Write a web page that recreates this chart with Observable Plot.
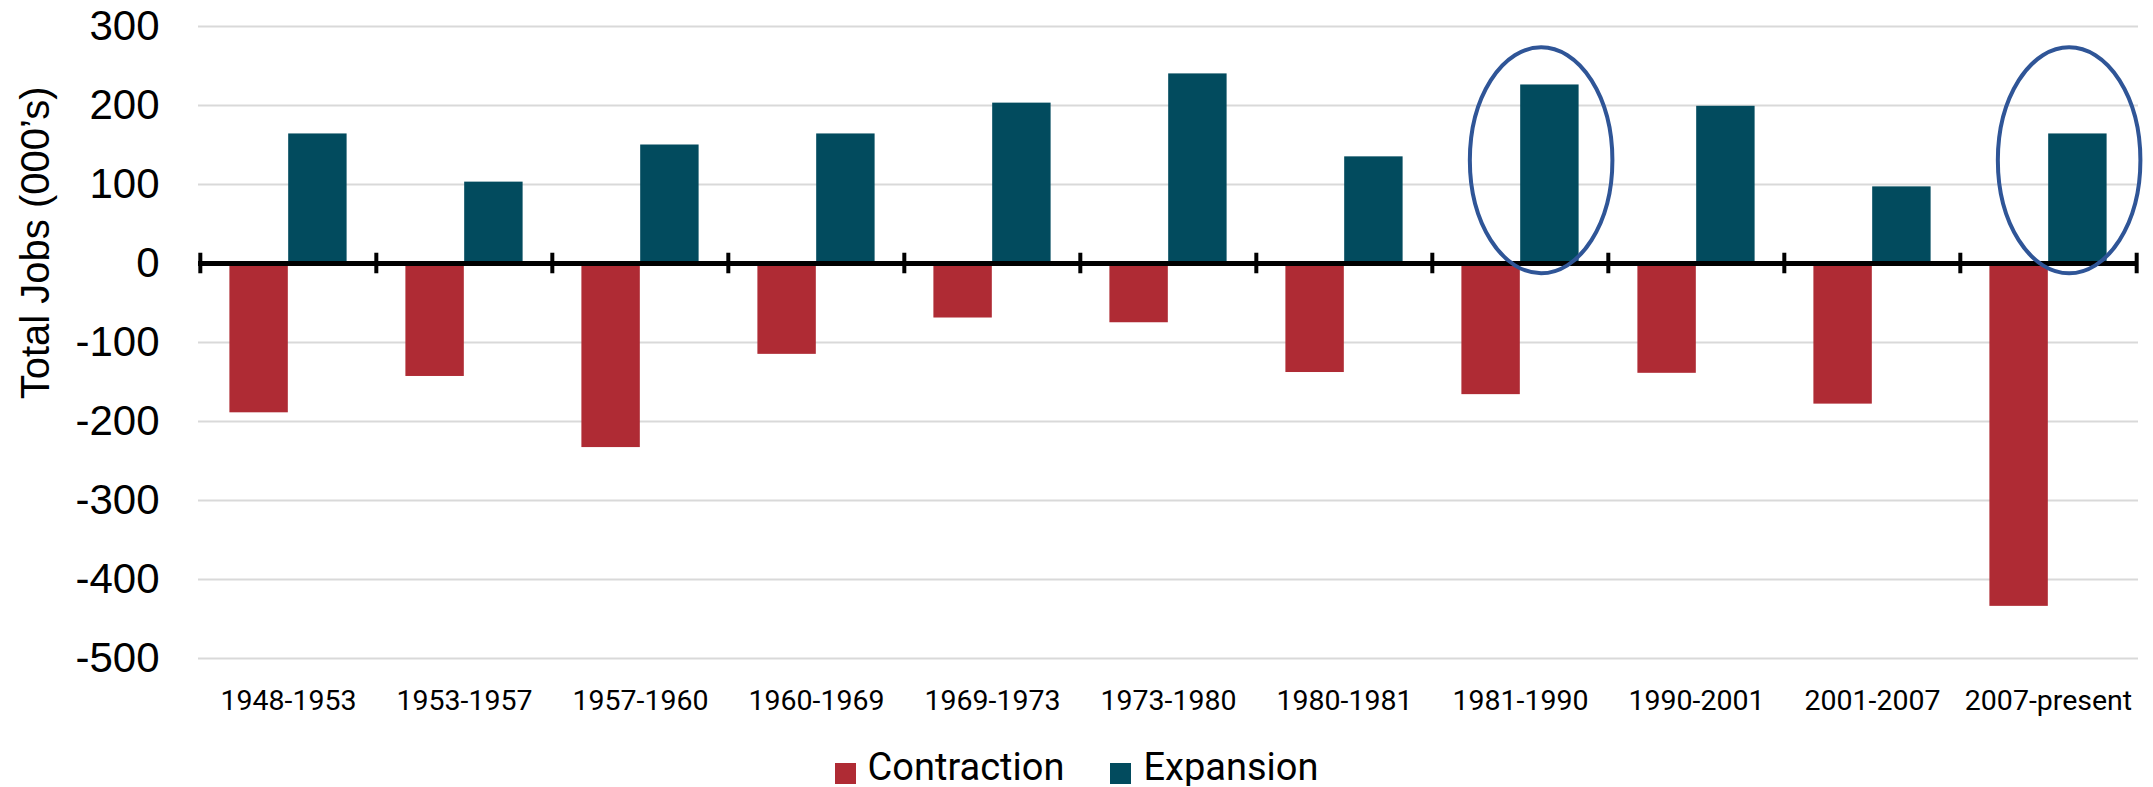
<!DOCTYPE html>
<html>
<head>
<meta charset="utf-8">
<script src="https://cdn.jsdelivr.net/npm/d3@7"></script>
<script src="https://cdn.jsdelivr.net/npm/@observablehq/plot@0.6"></script>
<style>
  body { margin: 0; background: #fff; }
  #chart { width: 2153px; }
  .legend { display: flex; justify-content: center; gap: 46px; font-family: Roboto, "Liberation Sans", sans-serif; font-size: 38px; line-height: 38px; padding-top: 28px; color: #000; }
  .legend .sw { display: inline-block; width: 21px; height: 21px; margin-right: 12px; vertical-align: -4px; }
</style>
</head>
<body>
<div id="chart"></div>
<script>
// ---- data ----
const periods = ["1948-1953", "1953-1957", "1957-1960", "1960-1969", "1969-1973", "1973-1980",
                 "1980-1981", "1981-1990", "1990-2001", "2001-2007", "2007-present"];
const contraction = [-189, -143, -233, -115, -69, -75, -138, -166, -139, -178, -434];
const expansion   = [164, 103, 150, 164, 203, 240, 135, 226, 199, 97, 164];
const yTicks = [-500, -400, -300, -200, -100, 0, 100, 200, 300];
const seriesNames = ["Contraction", "Expansion"];
const seriesColors = ["#AF2B34", "#024B5E"];
const highlighted = ["1981-1990", "2007-present"];
const yTitle = "Total Jobs (000’s)";

// ---- layout ----
const W = 2153, H = 720, ML = 198, MR = 15, MT = 26, MB = 62;
const bw = (W - ML - MR) / periods.length;

const rows = periods.flatMap((p, i) => [
  {period: p, type: seriesNames[0], value: contraction[i]},
  {period: p, type: seriesNames[1], value: expansion[i]}
]);

// annotation ellipses drawn through the plot's own scales
function ellipses(index, scales) {
  const g = d3.create("svg:g");
  const x = scales.x, y = scales.y;
  const b = x.bandwidth ? x.bandwidth() : bw;
  for (const p of highlighted) {
    const cy = y(130);
    const ry = Math.abs(y(273) - cy);
    g.append("ellipse")
      .attr("cx", x(p) + 0.62 * b)
      .attr("cy", cy)
      .attr("rx", 0.405 * b)
      .attr("ry", ry)
      .attr("fill", "none")
      .attr("stroke", "#2F5597")
      .attr("stroke-width", 4);
  }
  return g.node();
}

const boundaries = periods.map((p) => ({period: p, side: -1}))
  .concat([{period: periods[periods.length - 1], side: 1}]);

const plot = Plot.plot({
  width: W,
  height: H,
  marginLeft: ML,
  marginRight: MR,
  marginTop: MT,
  marginBottom: MB,
  x: {type: "band", domain: periods, paddingInner: 0, paddingOuter: 0, axis: null},
  y: {domain: [-500, 300], axis: null},
  style: {background: "#fff", overflow: "visible"},
  marks: [
    Plot.ruleY(yTicks, {stroke: "#d9d9d9", strokeWidth: 2}),
    Plot.barY(rows.filter(d => d.type === seriesNames[0]), {
      x: "period", y: "value", fill: seriesColors[0],
      insetLeft: bw / 6, insetRight: bw / 2
    }),
    Plot.barY(rows.filter(d => d.type === seriesNames[1]), {
      x: "period", y: "value", fill: seriesColors[1],
      insetLeft: bw / 2, insetRight: bw / 6
    }),
    Plot.ruleY([0], {stroke: "#000", strokeWidth: 5}),
    Plot.ruleX(boundaries.filter(d => d.side < 0), {x: "period", y1: -13, y2: 13, dx: -bw / 2, stroke: "#000", strokeWidth: 4}),
    Plot.ruleX(boundaries.filter(d => d.side > 0), {x: "period", y1: -13, y2: 13, dx: bw / 2, stroke: "#000", strokeWidth: 4}),
    ellipses,
    // y tick labels
    Plot.text(yTicks, {
      y: d => d, frameAnchor: "left", textAnchor: "end", dx: -39,
      text: d => d.toString(), fill: "#000",
      fontSize: 42, fontFamily: "'Liberation Sans', Arial, sans-serif"
    }),
    // x tick labels
    Plot.text(periods, {
      x: d => d, frameAnchor: "bottom", lineAnchor: "top", dy: 31,
      text: d => d, fill: "#000",
      fontSize: 28.5, fontFamily: "Roboto, sans-serif"
    }),
    // y axis title
    Plot.text([yTitle], {
      frameAnchor: "top-left", rotate: -90, textAnchor: "end",
      dx: -178, dy: 60, text: d => d, fill: "#000",
      fontSize: 40, fontFamily: "'Liberation Sans', Arial, sans-serif"
    })
  ]
});

const chart = document.getElementById("chart");
chart.appendChild(plot);

const legend = document.createElement("div");
legend.className = "legend";
seriesNames.forEach((name, i) => {
  const item = document.createElement("div");
  const sw = document.createElement("span");
  sw.className = "sw";
  sw.style.background = seriesColors[i];
  item.appendChild(sw);
  item.appendChild(document.createTextNode(name));
  legend.appendChild(item);
});
chart.appendChild(legend);
</script>
</body>
</html>
